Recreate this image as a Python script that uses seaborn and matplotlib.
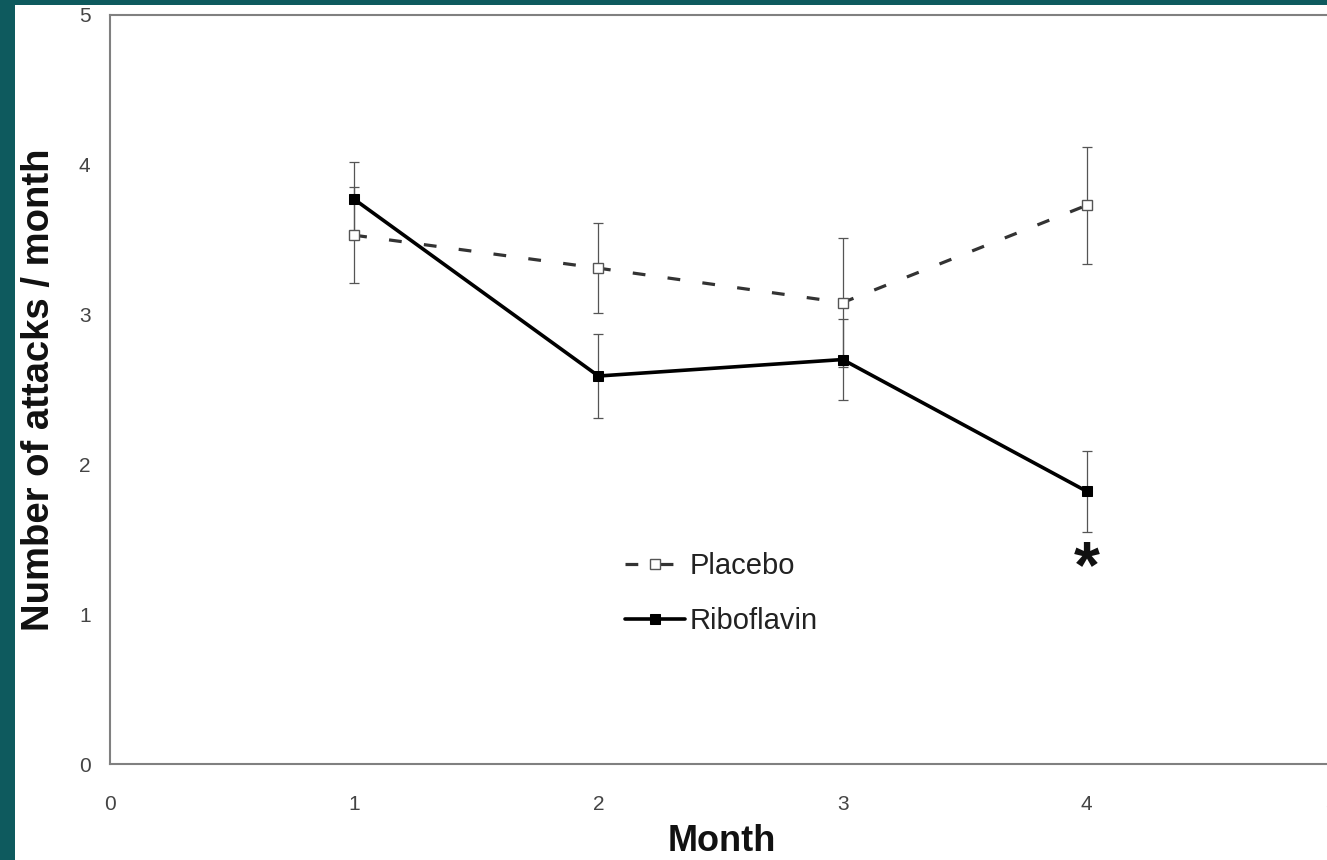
import numpy as np
import pandas as pd
import matplotlib
matplotlib.use("Agg")
import matplotlib.pyplot as plt
import seaborn as sns
from matplotlib.patches import Rectangle

# ---- data ----
months = [1, 2, 3, 4]
placebo = [3.53, 3.31, 3.08, 3.73]
placebo_err = [0.32, 0.30, 0.43, 0.39]
riboflavin = [3.77, 2.59, 2.70, 1.82]
riboflavin_err = [0.25, 0.28, 0.27, 0.27]
series_names = ["Placebo", "Riboflavin"]
x_ticks = [0, 1, 2, 3, 4, 5]
y_ticks = [0, 1, 2, 3, 4, 5]
signif_month = 4
signif_label = "*"
x_label = "Month"
y_label = "Number of attacks / month"

df_p = pd.DataFrame({"month": months, "value": placebo, "group": series_names[0]})
df_r = pd.DataFrame({"month": months, "value": riboflavin, "group": series_names[1]})

sns.set_theme(style="white")
plt.rcParams['font.family'] = ['Liberation Sans', 'DejaVu Sans']

W, H = 1327, 860
fig = plt.figure(figsize=(W / 100, H / 100), dpi=100)
fig.patch.set_facecolor('#0e5a5e')
fig.patches.append(Rectangle((15 / W, 0), 1, (H - 5) / H, transform=fig.transFigure,
                             facecolor='white', edgecolor='none', zorder=-1))

ax = fig.add_axes([110 / W, 96 / H, 1221 / W, 749 / H])
ax.set_facecolor('white')

# error bars
ax.errorbar(months, placebo, yerr=placebo_err, fmt='none', ecolor='#555555',
            elinewidth=0.9, capsize=3.5, capthick=0.9, zorder=2)
ax.errorbar(months, riboflavin, yerr=riboflavin_err, fmt='none', ecolor='#555555',
            elinewidth=0.9, capsize=3.5, capthick=0.9, zorder=2)

sns.lineplot(data=df_p, x="month", y="value", ax=ax, color='#333333',
             linewidth=2.3, dashes=False, legend=False, zorder=3)
sns.lineplot(data=df_r, x="month", y="value", ax=ax, color='black',
             linewidth=2.6, legend=False, zorder=4)
lp, lr = ax.lines[-2], ax.lines[-1]
lp.set_dashes((4, 7))
lp.set_marker('s'); lp.set_markersize(7); lp.set_markerfacecolor('white')
lp.set_markeredgecolor('#555555'); lp.set_markeredgewidth(1.0)
lr.set_marker('s'); lr.set_markersize(6.5); lr.set_markerfacecolor('black')
lr.set_markeredgecolor('black')

ax.set_xlim(0, 5)
ax.set_ylim(0, 5)
ax.set_xticks(x_ticks)
ax.set_yticks(y_ticks)
ax.set_xticklabels([str(t) for t in x_ticks])
ax.set_yticklabels([str(t) for t in y_ticks])

for s in ax.spines.values():
    s.set_visible(True)
    s.set_color('#808080')
    s.set_linewidth(1.5)

ax.tick_params(axis='both', direction='in', length=5, width=1, color='#808080',
               labelsize=15, labelcolor='#444444')
ax.tick_params(axis='x', pad=22)
ax.tick_params(axis='y', pad=14)

ax.set_xlabel(x_label, fontsize=26, fontweight='bold', color='#111111', va='baseline')
ax.xaxis.set_label_coords(0.501, -0.1155)
ax.set_ylabel(y_label, fontsize=27.5, fontweight='bold', color='#111111', va='center')
ax.yaxis.set_label_coords(-0.058, 0.5)

# significance asterisk
ax.text(signif_month, 1.18, signif_label, fontsize=48, fontweight='bold',
        ha='center', va='baseline', color='#111111')

leg = ax.legend([lp, lr], series_names, loc='upper left',
                bbox_to_anchor=(625 / W, (H - 552) / H), bbox_transform=fig.transFigure,
                frameon=False, fontsize=21, handlelength=2.05, handletextpad=0.17,
                labelspacing=0.92, borderpad=0, borderaxespad=0)
for t in leg.get_texts():
    t.set_color('#222222')

fig.savefig("out.png", dpi=100, facecolor=fig.get_facecolor())
